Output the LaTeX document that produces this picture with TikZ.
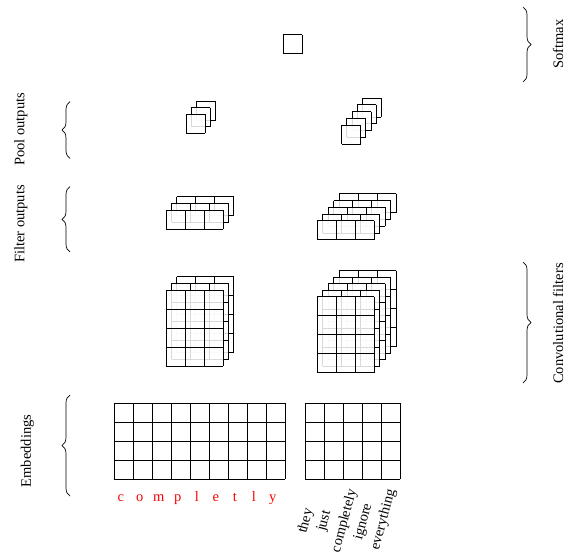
\documentclass[tikz,border=0pt]{standalone}
\usepackage{fontspec}
\setmainfont{Liberation Serif}
\usetikzlibrary{decorations.pathreplacing}
\tikzset{
  gridline/.style={draw=black, line width=0.9pt},
  lbl/.style={font=\fontsize{14.5}{17}\selectfont, inner sep=0pt},
  brc/.style={decorate, decoration={brace, amplitude=8pt}, line width=0.7pt},
  letter/.style={lbl, text=red, anchor=base},
  word/.style={lbl, rotate=75, anchor=center},
}
% #1 x0, #2 y0, #3 dx, #4 dy, #5 layers, #6 cols, #7 rows
\newcommand{\layerstack}[7]{%
  \foreach \i in {#5,...,1}{%
    \pgfmathsetmacro\lx{#1+(\i-1)*(#3)}%
    \pgfmathsetmacro\ly{#2+(\i-1)*(#4)}%
    \fill[white, fill opacity=0.85] (\lx,\ly) rectangle ++(#6*19,#7*19);
    \foreach \c in {0,...,#6}{\draw[gridline] ({\lx+\c*19},\ly) -- ++(0,#7*19);}
    \foreach \r in {0,...,#7}{\draw[gridline] (\lx,{\ly+\r*19}) -- ++(#6*19,0);}
  }%
}
\begin{document}
\begin{tikzpicture}[x=1pt,y=-1pt]
\useasboundingbox (0,0) rectangle (567,554);

% embeddings
\layerstack{114.3}{403.3}{0}{0}{1}{9}{4}
\layerstack{305}{403.3}{0}{0}{1}{5}{4}

% convolutional filters
\layerstack{166.3}{290}{5.2}{-6.65}{3}{3}{4}
\layerstack{317.3}{296.7}{5.5}{-6.5}{5}{3}{4}

% filter outputs
\layerstack{166.3}{210}{5.2}{-6.65}{3}{3}{1}
\layerstack{317.3}{220.7}{5.5}{-6.7}{5}{3}{1}

% pool outputs
\layerstack{186}{114.3}{5.35}{-6.65}{3}{1}{1}
\layerstack{341.7}{125}{5.15}{-6.7}{5}{1}{1}

% softmax
\layerstack{283.3}{34.8}{0}{0}{1}{1}{1}

% red letters
\foreach \ch [count=\k from 0] in {c,o,m,p,l,e,t,l,y}{
  \node[letter] (let\k) at ({120.8+19*\k},501.7) {\ch};
}

% rotated words
\node[word] (w1) at (306,521) {they};
\node[word] (w2) at (324.5,521) {just};
\node[word] (w3) at (344.5,521) {completely};
\node[word] (w4) at (363.5,522) {ignore};
\node[word] (w5) at (383.5,520) {everything};

% left labels and braces
\node[lbl, rotate=90] (pool) at (21,129.5) {Pool outputs};
\node[lbl, rotate=90] (filt) at (21,224) {Filter outputs};
\node[lbl, rotate=90] (emb) at (27.5,451) {Embeddings};
\coordinate (bp1) at (70,158.3); \coordinate (bp2) at (70,101.7);
\coordinate (bf1) at (70,252); \coordinate (bf2) at (70,186.7);
\coordinate (be1) at (70,496); \coordinate (be2) at (70,395);
\draw[brc] (bp1) -- (bp2);
\draw[brc] (bf1) -- (bf2);
\draw[brc] (be1) -- (be2);

% right labels and braces
\node[lbl, rotate=90] (soft) at (558,44) {Softmax};
\node[lbl, rotate=90] (conv) at (558,323.5) {Convolutional filters};
\coordinate (bs1) at (523,7); \coordinate (bs2) at (523,82);
\coordinate (bc1) at (523,262); \coordinate (bc2) at (523,383);
\draw[brc] (bs1) -- (bs2);
\draw[brc] (bc1) -- (bc2);
\end{tikzpicture}
\end{document}
